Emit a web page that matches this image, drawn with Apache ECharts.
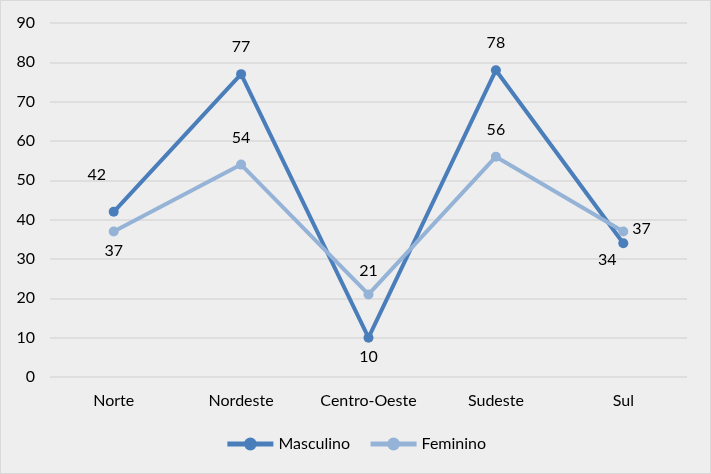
<!DOCTYPE html>
<html><head><meta charset="utf-8">
<script src="https://cdn.jsdelivr.net/npm/echarts@6/dist/echarts.min.js"></script>
<style>html,body{margin:0;padding:0;background:#eeeeee;}#c{width:711px;height:474px;box-sizing:border-box;border:1px solid #d9d9d9;}</style>
</head><body><div id="c"></div>
<script>
const categories = ['Norte','Nordeste','Centro-Oeste','Sudeste','Sul'];
const masculino = [42,77,10,78,34];
const feminino = [37,54,21,56,37];
const yTicks = {min:0, max:90, interval:10};

const mascLabels = [
  {position:'top', distance:5, offset:[-17,-19]},
  {position:'top', distance:14},
  {position:'bottom', distance:6},
  {position:'top', distance:14},
  {position:'bottom', distance:4, offset:[-16,0]}
];
const femLabels = [
  {position:'bottom', distance:6},
  {position:'top', distance:14},
  {position:'top', distance:11},
  {position:'top', distance:14},
  {position:'right', distance:4, offset:[0,-3]}
];
const font = 'Lato, "Open Sans", sans-serif';
const fs = 16;
const chart = echarts.init(document.getElementById('c'));
chart.setOption({
  animation:false,
  backgroundColor:'#eeeeee',
  textStyle:{fontFamily:font},
  grid:{left:49, right:23, top:22, bottom:96},
  legend:{bottom:16, left:'center', itemWidth:46, itemHeight:16, itemGap:18,
    lineStyle:{width:5},
    textStyle:{fontSize:fs, color:'#000', fontFamily:font},
    data:['Masculino','Feminino']},
  xAxis:{type:'category', data:categories, boundaryGap:true,
    axisLine:{show:false}, axisTick:{show:false},
    axisLabel:{fontSize:fs, color:'#000', margin:16, fontFamily:font}},
  yAxis:{type:'value', min:yTicks.min, max:yTicks.max, interval:yTicks.interval,
    axisLine:{show:false}, axisTick:{show:false},
    axisLabel:{fontSize:fs, color:'#000', margin:15, fontFamily:font},
    splitLine:{lineStyle:{color:'#d9d9d9', width:1.5}}},
  series:[
    {name:'Masculino', type:'line', symbol:'circle', symbolSize:10,
     lineStyle:{width:4, color:'#4a7ebb'}, itemStyle:{color:'#4a7ebb'},
     data:masculino.map((v,i)=>({value:v, label:Object.assign({show:true, fontSize:fs, color:'#000', fontFamily:font}, mascLabels[i])}))},
    {name:'Feminino', type:'line', symbol:'circle', symbolSize:10,
     lineStyle:{width:4, color:'#95b3d7'}, itemStyle:{color:'#95b3d7'},
     data:feminino.map((v,i)=>({value:v, label:Object.assign({show:true, fontSize:fs, color:'#000', fontFamily:font}, femLabels[i])}))}
  ]
});
</script></body></html>
